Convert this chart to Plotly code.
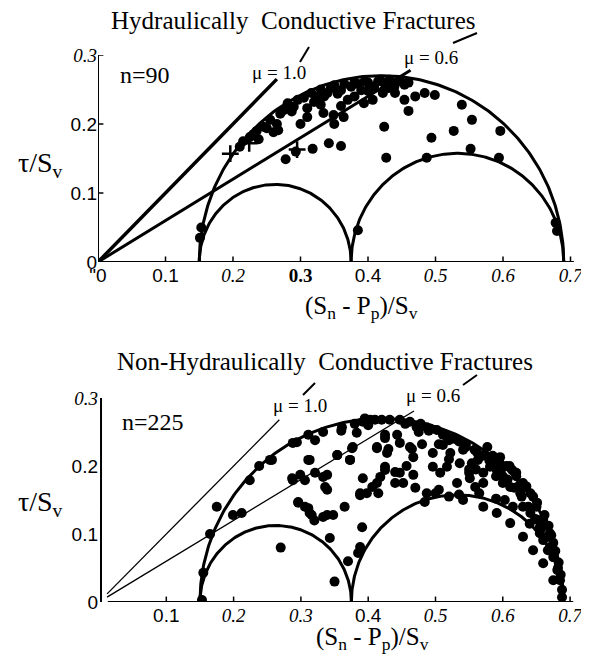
import numpy as np
import plotly.graph_objects as go

# ---------------- data ----------------
# normalized effective principal stresses (S3, S2, S1)/Sv defining the Mohr circles
principal = [0.15, 0.375, 0.69]
mu_values = [1.0, 0.6]
mu_labels = ["μ = 1.0", "μ = 0.6"]

# Hydraulically conductive fractures (n=90)
hc_x = [0.151, 0.153, 0.21, 0.225, 0.23, 0.245, 0.255, 0.26, 0.25, 0.267, 0.27, 0.281, 0.29,
        0.296, 0.31, 0.31, 0.32, 0.325, 0.335, 0.34, 0.345, 0.355, 0.36, 0.37, 0.375, 0.385,
        0.39, 0.394, 0.40, 0.407, 0.409, 0.415, 0.422, 0.43, 0.334, 0.349, 0.364, 0.424, 0.439,
        0.445, 0.454, 0.454, 0.46, 0.46, 0.47, 0.484, 0.499, 0.539, 0.424, 0.494, 0.527, 0.554,
        0.596, 0.552, 0.594, 0.427, 0.487, 0.678, 0.68, 0.385, 0.278, 0.318, 0.342, 0.36,
        0.293, 0.30, 0.35, 0.44, 0.287, 0.33, 0.316, 0.38, 0.4, 0.36, 0.265, 0.238,
        0.215, 0.235, 0.275, 0.305, 0.33, 0.35, 0.365, 0.38, 0.395, 0.418, 0.432, 0.448]
hc_y = [0.035, 0.05, 0.167, 0.181, 0.185, 0.196, 0.206, 0.188, 0.194, 0.191, 0.215, 0.23, 0.225,
        0.235, 0.223, 0.21, 0.232, 0.239, 0.24, 0.245, 0.252, 0.244, 0.249, 0.235, 0.254, 0.258,
        0.249, 0.23, 0.26, 0.235, 0.254, 0.262, 0.245, 0.252, 0.216, 0.213, 0.21, 0.259, 0.254,
        0.262, 0.257, 0.235, 0.219, 0.26, 0.24, 0.245, 0.242, 0.228, 0.196, 0.18, 0.19, 0.206,
        0.19, 0.164, 0.151, 0.151, 0.151, 0.057, 0.045, 0.046, 0.149, 0.164, 0.172, 0.168,
        0.16, 0.2, 0.2, 0.245, 0.218, 0.228, 0.245, 0.24, 0.248, 0.226, 0.2, 0.178,
        0.175, 0.19, 0.22, 0.238, 0.25, 0.256, 0.258, 0.26, 0.262, 0.264, 0.264, 0.262]
hc_cross_x = [0.196, 0.224, 0.295]
hc_cross_y = [0.157, 0.172, 0.163]

# Non-hydraulically conductive fractures (n=225)
nhc_x = [0.153, 0.155, 0.199, 0.212, 0.224, 0.254, 0.257, 0.288, 0.288, 0.311, 0.321, 0.333,
         0.361, 0.395, 0.42, 0.311, 0.287, 0.306, 0.321, 0.339, 0.336, 0.354, 0.373, 0.377,
         0.413, 0.425, 0.425, 0.392, 0.406, 0.388, 0.415, 0.296, 0.311, 0.316, 0.339, 0.294,
         0.313, 0.299, 0.296, 0.306, 0.313, 0.333, 0.339, 0.333, 0.348, 0.343, 0.373, 0.354,
         0.376, 0.383, 0.40, 0.403, 0.388, 0.398, 0.391, 0.388, 0.385, 0.413, 0.418, 0.425,
         0.413, 0.425, 0.428, 0.443, 0.447, 0.44, 0.447, 0.452, 0.467, 0.467, 0.462, 0.487,
         0.484, 0.447, 0.462, 0.487, 0.502, 0.496, 0.496, 0.507, 0.511, 0.522, 0.517, 0.526,
         0.541, 0.536, 0.551, 0.559, 0.532, 0.571, 0.563, 0.571, 0.581, 0.591, 0.60, 0.611,
         0.603, 0.626, 0.63, 0.641, 0.651, 0.655, 0.66, 0.667, 0.675, 0.681, 0.685, 0.688,
         0.688, 0.554, 0.577, 0.596, 0.614, 0.63, 0.641, 0.651, 0.66, 0.67, 0.675, 0.541,
         0.571, 0.591, 0.611, 0.63, 0.645, 0.66, 0.675, 0.395, 0.392, 0.41, 0.432, 0.472,
         0.49, 0.511, 0.535, 0.561, 0.58, 0.36, 0.38, 0.455, 0.475, 0.48, 0.505, 0.52, 0.545,
         0.55, 0.565, 0.585, 0.59, 0.605, 0.62, 0.625, 0.635, 0.645, 0.65, 0.662, 0.668,
         0.672, 0.678, 0.683, 0.686, 0.62, 0.61, 0.595, 0.58, 0.56, 0.52, 0.5, 0.47, 0.457,
         0.44, 0.43, 0.365, 0.37, 0.35, 0.32, 0.27, 0.238, 0.175, 0.165,
         0.478, 0.492, 0.515, 0.528, 0.545, 0.558, 0.57, 0.583, 0.597, 0.607, 0.617, 0.628,
         0.638, 0.648, 0.657, 0.664, 0.67, 0.676, 0.682, 0.505, 0.535, 0.565, 0.59, 0.615,
         0.64, 0.655, 0.52, 0.55, 0.6, 0.465]
nhc_y = [0.003, 0.043, 0.128, 0.131, 0.179, 0.209, 0.209, 0.234, 0.179, 0.246, 0.238, 0.25,
         0.257, 0.268, 0.268, 0.209, 0.182, 0.179, 0.19, 0.187, 0.169, 0.216, 0.209, 0.228,
         0.226, 0.241, 0.194, 0.182, 0.169, 0.157, 0.16, 0.146, 0.138, 0.128, 0.128, 0.235,
         0.209, 0.187, 0.147, 0.14, 0.131, 0.184, 0.165, 0.125, 0.128, 0.094, 0.209, 0.216,
         0.226, 0.249, 0.26, 0.268, 0.16, 0.16, 0.11, 0.081, 0.072, 0.175, 0.184, 0.199,
         0.228, 0.246, 0.219, 0.246, 0.234, 0.191, 0.19, 0.175, 0.187, 0.213, 0.228, 0.16,
         0.147, 0.268, 0.265, 0.257, 0.253, 0.219, 0.199, 0.19, 0.231, 0.219, 0.199, 0.241,
         0.224, 0.204, 0.182, 0.169, 0.175, 0.175, 0.209, 0.19, 0.199, 0.194, 0.175, 0.169,
         0.15, 0.16, 0.14, 0.131, 0.121, 0.101, 0.091, 0.076, 0.066, 0.047, 0.032, 0.018,
         0.007, 0.204, 0.228, 0.213, 0.194, 0.175, 0.16, 0.146, 0.121, 0.101, 0.087, 0.15,
         0.14, 0.131, 0.116, 0.096, 0.076, 0.057, 0.032, 0.27, 0.265, 0.268, 0.268, 0.257,
         0.252, 0.246, 0.236, 0.221, 0.208, 0.252, 0.262, 0.262, 0.25, 0.232, 0.232, 0.238,
         0.228, 0.195, 0.213, 0.215, 0.185, 0.2, 0.19, 0.172, 0.17, 0.155, 0.14, 0.128, 0.112,
         0.098, 0.075, 0.058, 0.04, 0.185, 0.2, 0.205, 0.212, 0.195, 0.155, 0.16, 0.168, 0.2,
         0.175, 0.225, 0.14, 0.06, 0.03, 0.12, 0.08, 0.2, 0.14, 0.1,
         0.262, 0.255, 0.245, 0.24, 0.232, 0.224, 0.215, 0.205, 0.193, 0.18, 0.168, 0.155,
         0.14, 0.122, 0.108, 0.095, 0.08, 0.066, 0.05, 0.165, 0.158, 0.16, 0.152, 0.14,
         0.115, 0.11, 0.21, 0.19, 0.185, 0.225]

# tick values and labels
x_tickvals = [0, 0.1, 0.2, 0.3, 0.4, 0.5, 0.6, 0.7]
top_x_ticktext = ['"0', '0.1', '0.2', '0.3', '0.4', '0.5', '0.6', '0.7']
bot_x_tickvals = [0.1, 0.2, 0.3, 0.4, 0.5, 0.6, 0.7]
bot_x_ticktext = ['0.1', '0.2', '0.3', '0.4', '0.5', '0.6', '0.7']
y_tickvals = [0, 0.1, 0.2, 0.3]
y_ticktext = ['0', '0.1', '0.2', '0.3']

titles = ["Hydraulically  Conductive Fractures", "Non-Hydraulically  Conductive Fractures"]
counts = ["n=90", "n=225"]

# ---------------- styling helpers ----------------
SERIF = "Liberation Serif, Times New Roman, serif"
SANS = "Liberation Sans, Arial, sans-serif"


def sans(t):
    return f'<span style="font-family:{SANS}">{t}</span>'


def ital(t):
    return f'<i>{t}</i>'


def bold(t):
    return f'<b>{t}</b>'


top_x_fmt = [sans, sans, ital, bold, sans, ital, ital, ital]
bot_x_fmt = [sans, ital, ital, sans, ital, ital, ital]
y_fmt = [sans, sans, sans, ital]

fig = go.Figure()


def mohr(center, radius, n=240):
    th = np.linspace(0, np.pi, n)
    return center + radius * np.cos(th), radius * np.sin(th)


circles = [(principal[0], principal[2]), (principal[0], principal[1]), (principal[1], principal[2])]

mu_ends_top = [0.265, 0.463]
mu_widths_top = [3.5, 3]
mu_ends_bot = [0.268, 0.468]
mu_starts_bot = [0.012, 0.012]

for panel, (xa, ya) in enumerate([("x", "y"), ("x2", "y2")]):
    for lo, hi in circles:
        cx, cy = mohr((lo + hi) / 2, (hi - lo) / 2)
        fig.add_trace(go.Scatter(x=cx, y=cy, mode="lines", xaxis=xa, yaxis=ya,
                                 line=dict(color="black", width=3), hoverinfo="skip"))
    for k, mu in enumerate(mu_values):
        if panel == 0:
            xs = np.array([0.0, mu_ends_top[k]])
            w = mu_widths_top[k]
        else:
            xs = np.array([mu_starts_bot[k], mu_ends_bot[k]])
            w = 1.3
        fig.add_trace(go.Scatter(x=xs, y=mu * xs, mode="lines", xaxis=xa, yaxis=ya,
                                 line=dict(color="black", width=w), hoverinfo="skip"))

fig.add_trace(go.Scatter(x=hc_x, y=hc_y, mode="markers", xaxis="x", yaxis="y",
                         marker=dict(color="black", size=10, line=dict(width=0))))
fig.add_trace(go.Scatter(x=hc_cross_x, y=hc_cross_y, mode="markers", xaxis="x", yaxis="y",
                         marker=dict(symbol="cross-thin", color="black", size=12,
                                     line=dict(color="black", width=2.5))))
fig.add_trace(go.Scatter(x=nhc_x, y=nhc_y, mode="markers", xaxis="x2", yaxis="y2",
                         marker=dict(color="black", size=10, line=dict(width=0))))

# the page body adds an 8px margin, so the figure is 16px smaller than the window
OFF = 8
W, H = 589 - 2 * OFF, 663 - 2 * OFF


def px(xp):
    return (xp - OFF) / W


def py(yp):
    return 1 - (yp - OFF) / H


axis_common = dict(showgrid=False, zeroline=False, showline=False, ticks="", automargin=False,
                   ticklabeloverflow="allow",
                   tickfont=dict(family=SERIF, size=19, color="black"), tickmode="array")

fig.update_layout(
    template="none",
    width=W, height=H, margin=dict(l=0, r=0, t=0, b=0, autoexpand=False),
    paper_bgcolor="white", plot_bgcolor="white", showlegend=False,
    xaxis=dict(axis_common, domain=[px(98), px(98 + 0.705 * 675)], range=[0, 0.705],
               tickvals=x_tickvals,
               ticktext=[f(t) for f, t in zip(top_x_fmt, top_x_ticktext)], anchor="y"),
    yaxis=dict(axis_common, domain=[py(262), py(55)], range=[0, 0.3],
               tickvals=y_tickvals,
               ticktext=[f(t) for f, t in zip(y_fmt, y_ticktext)], anchor="x"),
    xaxis2=dict(axis_common, domain=[px(99), px(99 + 0.705 * 673)], range=[0, 0.705],
                tickvals=bot_x_tickvals,
                ticktext=[f(t) for f, t in zip(bot_x_fmt, bot_x_ticktext)], anchor="y2"),
    yaxis2=dict(axis_common, domain=[py(602), py(398)], range=[0, 0.3],
                tickvals=y_tickvals,
                ticktext=[f(t) for f, t in zip(y_fmt, y_ticktext)], anchor="x2"),
)

# axis lines and inward ticks
axis_line = dict(color="black", width=2)
tick_line = dict(color="black", width=1.5)
fig.add_shape(type="line", xref="x domain", yref="y", x0=0, x1=1, y0=0, y1=0, line=axis_line)
fig.add_shape(type="line", xref="x", yref="y", x0=0, x1=0, y0=0, y1=0.3, line=axis_line)
fig.add_shape(type="line", xref="x2", yref="y2", x0=0.013, x1=0.705, y0=0, y1=0, line=axis_line)
fig.add_shape(type="line", xref="x2", yref="y2", x0=0.003, x1=0.003, y0=0, y1=0.3, line=axis_line)
for tv in x_tickvals[1:]:
    fig.add_shape(type="line", xref="x", yref="y", x0=tv, x1=tv, y0=0, y1=0.008, line=tick_line)
for tv in bot_x_tickvals:
    fig.add_shape(type="line", xref="x2", yref="y2", x0=tv, x1=tv, y0=0, y1=0.008, line=tick_line)
for tv in y_tickvals[1:]:
    fig.add_shape(type="line", xref="x", yref="y", x0=0, x1=0.008, y0=tv, y1=tv, line=tick_line)


def label(text, xp, yp, size, xanchor="center"):
    return dict(text=text, x=px(xp), y=py(yp), xref="paper", yref="paper", showarrow=False,
                xanchor=xanchor, yanchor="middle",
                font=dict(family=SERIF, size=size, color="black"))


ann = []
title_pos = [(293, 20), (325, 361)]
xt_pos = [(361, 303), (372, 634)]
yt_y = [160, 500]
for i in range(2):
    ann.append(label(titles[i], title_pos[i][0], title_pos[i][1], 25))
    ann.append(label("(S<sub>n</sub> - P<sub>p</sub>)/S<sub>v</sub>", xt_pos[i][0],
                     xt_pos[i][1] + 4, 25))
    ann.append(label("τ/S<sub>v</sub>", 40, yt_y[i] + 4, 28))

ann.append(label(counts[0], 118, 75, 24, xanchor="left"))
ann.append(label(counts[1], 120, 422, 24, xanchor="left"))
mu_pos = [(279, 72), (431, 57), (300, 405), (433, 395)]
for k, (xp, yp) in enumerate(mu_pos):
    ann.append(label(mu_labels[k % 2], xp, yp, 19))
fig.update_layout(annotations=ann)

# small leader slashes beside the friction labels
slashes = [((300, 62), (309, 47)), ((453, 43), (477, 33)),
           ((303, 395), (315, 383)), ((463, 385), (477, 375))]
for (a, b) in slashes:
    fig.add_shape(type="line", xref="paper", yref="paper", x0=px(a[0]), y0=py(a[1]),
                  x1=px(b[0]), y1=py(b[1]), line=dict(color="black", width=2))

fig.write_html("out.html")
